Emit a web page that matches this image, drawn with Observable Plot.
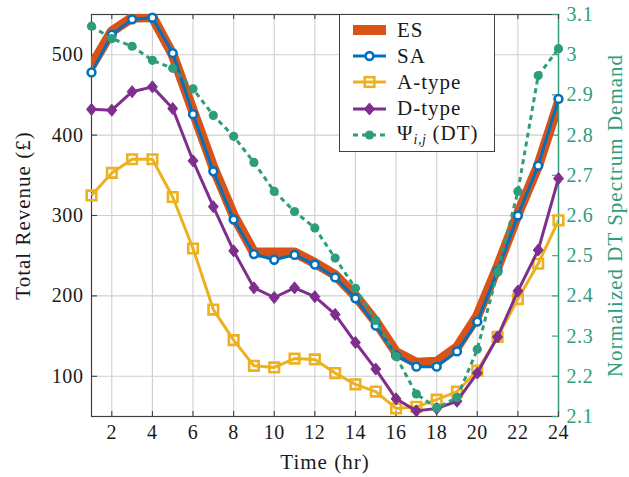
<!DOCTYPE html>
<html>
<head>
<meta charset="utf-8">
<script src="https://cdn.jsdelivr.net/npm/d3@7"></script>
<script src="https://cdn.jsdelivr.net/npm/@observablehq/plot@0.6"></script>
<style>
  html, body { margin: 0; padding: 0; background: #fff; }
  #wrap { position: relative; width: 629px; height: 477px; font-family: 'Liberation Serif'; color: #1a1a1a; }
  #legend { position: absolute; left: 339px; top: 14px; width: 156px; height: 138px; box-sizing: border-box;
            background: #fff; border: 1.2px solid #404040; padding-top: 2px; font-family: 'Liberation Serif'; }
  .row { display: flex; align-items: center; height: 26.2px; font-size: 21px; letter-spacing: 1px; font-family: 'Liberation Serif'; }
  .row svg { flex: none; }
  .row sub { font-size: 14px; font-style: italic; letter-spacing: 0.5px; vertical-align: -4px; }
</style>
</head>
<body>
<div id="wrap"></div>
<script>
// ---------- data ----------
const hours = [1,2,3,4,5,6,7,8,9,10,11,12,13,14,15,16,17,18,19,20,21,22,23,24];
const esRevenue    = [486,529,546,547,500,430,360,300,254,254,254,241,226,200,168,130,117,118,136,175,236,302,362,440];
const saRevenue    = [478,525,544,546,502,426,355,295,252,245,251,239,223,197,163,126,112,112,131,168,231,300,362,445];
const aTypeRevenue = [325,353,370,370,323,259,183,145,113,111,122,121,104,90,81,60,62,71,81,107,149,196,240,294];
const dTypeRevenue = [432,431,454,460,433,368,311,256,210,198,210,199,177,142,109,72,57,60,69,104,149,206,257,346];
const dtDemand     = [3.071,3.040,3.021,2.986,2.966,2.915,2.849,2.797,2.732,2.660,2.610,2.569,2.494,2.419,2.339,2.249,2.156,2.121,2.147,2.267,2.459,2.660,2.948,3.015];

const seriesNames = ["ES", "SA", "A-type", "D-type", "Ψ"];
const xTicks = [2,4,6,8,10,12,14,16,18,20,22,24];
const leftTicks = [100,200,300,400,500];
const rightTicks = [2.1,2.2,2.3,2.4,2.5,2.6,2.7,2.8,2.9,3.0,3.1];
const xDomain = [1, 24];
const leftDomain = [50, 550];
const rightDomain = [2.1, 3.1];
const xTitle = "Time (hr)";
const leftTitle = "Total Revenue (£)";
const rightTitle = "Normalized DT Spectrum Demand";

// ---------- style ----------
const FONT = "Liberation Serif";
const ORANGE = "#d95319", BLUE = "#0072bd", YELLOW = "#edb120", PURPLE = "#7e2f8e", GREEN = "#2f9c7c";
const GRID = "#cfcfcf", AXIS = "#404040", INK = "#1a1a1a";
const W = 629, H = 477, MT = 14, MB = 61, ML = 91, MR = 71;
const plotW = W - ML - MR, plotH = H - MT - MB;

const toLeft = v => leftDomain[0] + (v - rightDomain[0]) * (leftDomain[1] - leftDomain[0]) / (rightDomain[1] - rightDomain[0]);
const toRight = v => rightDomain[0] + (v - leftDomain[0]) * (rightDomain[1] - rightDomain[0]) / (leftDomain[1] - leftDomain[0]);

const rows = hours.map((h, i) => ({
  h, es: esRevenue[i], sa: saRevenue[i], a: aTypeRevenue[i], d: dTypeRevenue[i], dt: toLeft(dtDemand[i])
}));

const tallDiamond = {
  draw(ctx, size) {
    const s = Math.sqrt(size), h = s * 0.68, w = s * 0.56;
    ctx.moveTo(0, -h); ctx.lineTo(w, 0); ctx.lineTo(0, h); ctx.lineTo(-w, 0); ctx.closePath();
  }
};

const lineOpts = {x: "h", strokeWidth: 3, strokeLinejoin: "miter", strokeLinecap: "butt", clip: true};

const chart = Plot.plot({
  width: W, height: H,
  marginTop: MT, marginBottom: MB, marginLeft: ML, marginRight: MR,
  style: `font-family: '${FONT}'; background: #fff; color: ${INK}; overflow: visible;`,
  x: {domain: xDomain},
  y: {domain: leftDomain},
  marks: [
    Plot.gridX(xTicks, {stroke: GRID, strokeOpacity: 1, strokeWidth: 1.1}),
    Plot.gridY(leftTicks, {stroke: GRID, strokeOpacity: 1, strokeWidth: 1.1}),
    Plot.frame({stroke: AXIS, strokeWidth: 1.2}),
    Plot.ruleX([xDomain[1]], {stroke: GREEN, strokeWidth: 1.2}),
    // inward ticks
    Plot.tickX(xTicks, {x: d => d, insetTop: plotH - 5, stroke: AXIS, strokeWidth: 1.1}),
    Plot.tickX(xTicks, {x: d => d, insetBottom: plotH - 5, stroke: AXIS, strokeWidth: 1.1}),
    Plot.tickY(leftTicks, {y: d => d, insetRight: plotW - 6, stroke: AXIS, strokeWidth: 1.1}),
    Plot.tickY(rightTicks.map(toLeft), {y: d => d, insetLeft: plotW - 6, stroke: GREEN, strokeWidth: 1.1}),
    // axes labels
    Plot.axisX(xTicks, {anchor: "bottom", tickSize: 0, tickPadding: 8, fontSize: 20, fill: INK, label: null}),
    Plot.axisY(leftTicks, {anchor: "left", tickSize: 0, tickPadding: 8, fontSize: 20, fill: INK, label: null}),
    Plot.axisY(rightTicks.map(toLeft), {anchor: "right", tickSize: 0, tickPadding: 8, fontSize: 20, fill: GREEN, label: null,
      tickFormat: v => String(+toRight(v).toFixed(2))}),
    // ES
    Plot.line(rows, {...lineOpts, y: "es", stroke: ORANGE, strokeWidth: 10}),
    // SA
    Plot.line(rows, {...lineOpts, y: "sa", stroke: BLUE}),
    Plot.dot(rows, {x: "h", y: "sa", r: 3.9, fill: "#fff", stroke: BLUE, strokeWidth: 2.6}),
    // A-type
    Plot.line(rows, {...lineOpts, y: "a", stroke: YELLOW}),
    Plot.dot(rows, {x: "h", y: "a", symbol: "square", r: 5.4, fill: "none", stroke: YELLOW, strokeWidth: 2.6}),
    // D-type
    Plot.line(rows, {...lineOpts, y: "d", stroke: PURPLE}),
    Plot.dot(rows, {x: "h", y: "d", symbol: tallDiamond, r: 5, fill: PURPLE, stroke: PURPLE, strokeWidth: 1}),
    // DT demand (right axis)
    Plot.line(rows, {...lineOpts, y: "dt", stroke: GREEN, strokeDasharray: "5,4"}),
    Plot.dot(rows, {x: "h", y: "dt", r: 4.6, fill: GREEN}),
    // titles
    Plot.text([xTitle], {frameAnchor: "bottom", dy: 38, lineAnchor: "top", textAnchor: "middle", text: d => d, fontSize: 21, fill: INK}),
    Plot.text([leftTitle], {frameAnchor: "left", dx: -76, rotate: -90, lineAnchor: "top", textAnchor: "middle", text: d => d, fontSize: 21, fill: INK}),
    Plot.text([rightTitle], {frameAnchor: "right", dx: 49, rotate: -90, lineAnchor: "top", textAnchor: "middle", text: d => d, fontSize: 21, fill: GREEN})
  ]
});

d3.select(chart).attr("font-family", FONT);
d3.select(chart).selectAll("g, text").attr("font-family", FONT).style("font-family", `'${FONT}'`);
d3.select(chart).selectAll("text").style("letter-spacing", "0.6px").each(function () {
  const t = this.textContent;
  if (t === xTitle || t === leftTitle || t === rightTitle) this.style.letterSpacing = "1px";
});

const wrap = document.getElementById("wrap");
wrap.appendChild(chart);

// ---------- legend ----------
const legend = d3.select(wrap).append("div").attr("id", "legend");
const colors = [ORANGE, BLUE, YELLOW, PURPLE, GREEN];
seriesNames.forEach((name, i) => {
  const row = legend.append("div").attr("class", "row").style("font-family", `'${FONT}'`);
  const s = row.append("svg").attr("width", 57).attr("height", 26);
  const c = colors[i];
  if (i === 0) {
    s.append("rect").attr("x", 13).attr("y", 8).attr("width", 33).attr("height", 10).attr("fill", c);
  } else {
    s.append("line").attr("x1", 13).attr("x2", 46).attr("y1", 13).attr("y2", 13)
      .attr("stroke", c).attr("stroke-width", 3).attr("stroke-dasharray", i === 4 ? "5,4" : null);
    const g = s.append("g").attr("transform", "translate(29.5,13)");
    if (i === 1) g.append("circle").attr("r", 3.9).attr("fill", "#fff").attr("stroke", c).attr("stroke-width", 2.6);
    if (i === 2) g.append("rect").attr("x", -4.8).attr("y", -4.8).attr("width", 9.6).attr("height", 9.6)
      .attr("fill", "none").attr("stroke", c).attr("stroke-width", 2.6);
    if (i === 3) g.append("path").attr("d", d3.symbol(tallDiamond, Math.PI * 25)()).attr("fill", c).attr("stroke", c);
    if (i === 4) g.append("circle").attr("r", 4.6).attr("fill", c);
  }
  const label = row.append("span").style("font-family", `'${FONT}'`);
  if (i === 4) {
    label.html("Ψ<sub>i,j</sub>&nbsp;(DT)");
  } else {
    label.text(name);
  }
});
</script>
</body>
</html>
